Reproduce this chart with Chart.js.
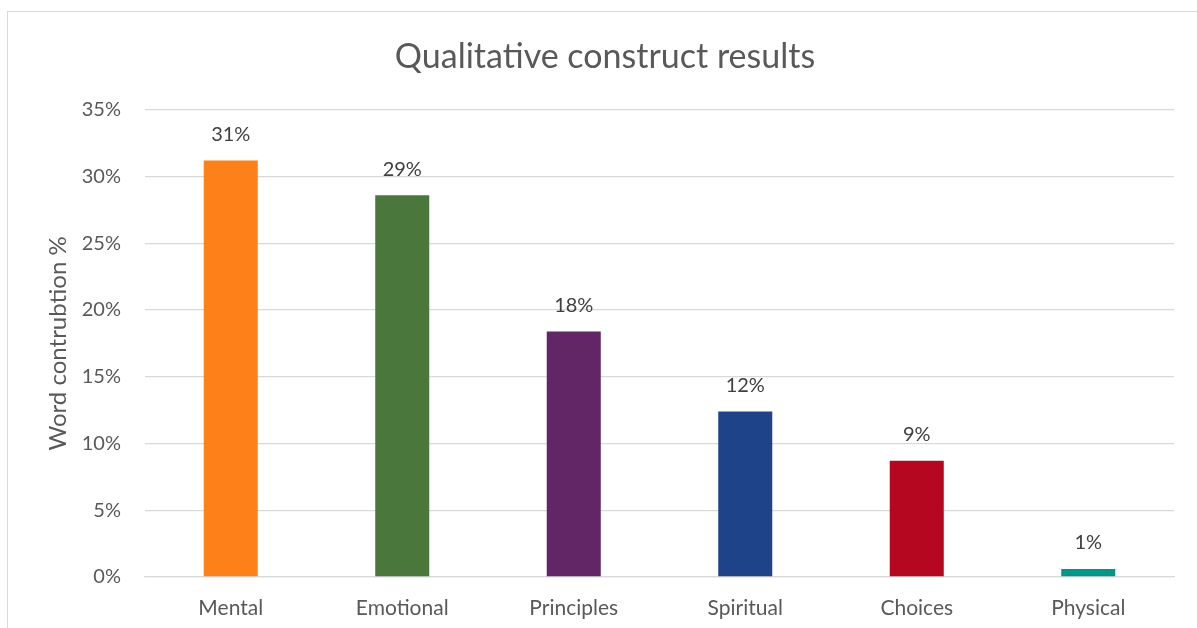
<!DOCTYPE html>
<html>
<head>
<meta charset="utf-8">
<script src="https://cdn.jsdelivr.net/npm/chart.js@4/dist/chart.umd.min.js"></script>
<style>
body{margin:0;background:#fff;overflow:hidden;}
#frame{position:absolute;left:7px;top:11px;width:1300px;height:700px;border:1px solid #d9d9d9;}
#wrap{position:absolute;left:0;top:0;width:1197px;height:628px;}
</style>
</head>
<body>
<div id="frame"></div>
<div id="wrap"><canvas id="chart" width="1197" height="628"></canvas></div>
<script>
const categories = ["Mental","Emotional","Principles","Spiritual","Choices","Physical"];
const values = [31.2, 28.6, 18.4, 12.4, 8.7, 0.6];
const barColors = ["#fe8019","#4a773c","#622566","#1f4388","#b5071f","#009688"];
const yTicks = [0,5,10,15,20,25,30,35];

const font = "Lato";

/* value labels above bars */
const valueLabels = {
id:"valueLabels",
afterDatasetsDraw(chart){
const ctx = chart.ctx;
const meta = chart.getDatasetMeta(0);
ctx.save();
ctx.font = "20px " + font;
ctx.fillStyle = "#404040";
ctx.textAlign = "center";
ctx.textBaseline = "middle";
meta.data.forEach((bar,i) => {
ctx.fillText(Math.round(values[i]) + "%", bar.x, bar.y - 26);
});
ctx.restore();
}
};

new Chart(document.getElementById("chart"),{

type:"bar",

data:{
labels:categories,
datasets:[{
label:"Word contribution",
data:values,
backgroundColor:barColors,
barPercentage:0.315,
categoryPercentage:1
}]
},

options:{
responsive:false,
animation:false,
devicePixelRatio:1,
layout:{padding:{left:36,right:23,top:0,bottom:0}},
plugins:{
legend:{display:false},
tooltip:{enabled:false},
title:{
display:true,
text:"Qualitative construct results",
color:"#595959",
font:{family:font,size:34,weight:"normal"},
padding:{top:37,bottom:32}
}
},
scales:{
x:{
grid:{display:false,drawTicks:false},
border:{color:"#d9d9d9",width:1.3},
ticks:{color:"#595959",font:{family:font,size:21},padding:19,maxRotation:0},
afterFit(scale){ scale.height = 51; }
},
y:{
min:0,
max:35,
afterBuildTicks(scale){ scale.ticks = yTicks.map(v => ({value:v})); },
grid:{color:"#d9d9d9",lineWidth:1.3,drawTicks:false},
border:{display:false},
ticks:{color:"#595959",font:{family:font,size:20},padding:24,callback:v => v + "%"},
title:{
display:true,
text:"Word contrubtion %",
color:"#595959",
font:{family:font,size:24},
padding:{top:8,bottom:0}
},
afterFit(scale){ scale.width = 109; }
}
}
},

plugins:[valueLabels]

});
</script>
</body>
</html>
